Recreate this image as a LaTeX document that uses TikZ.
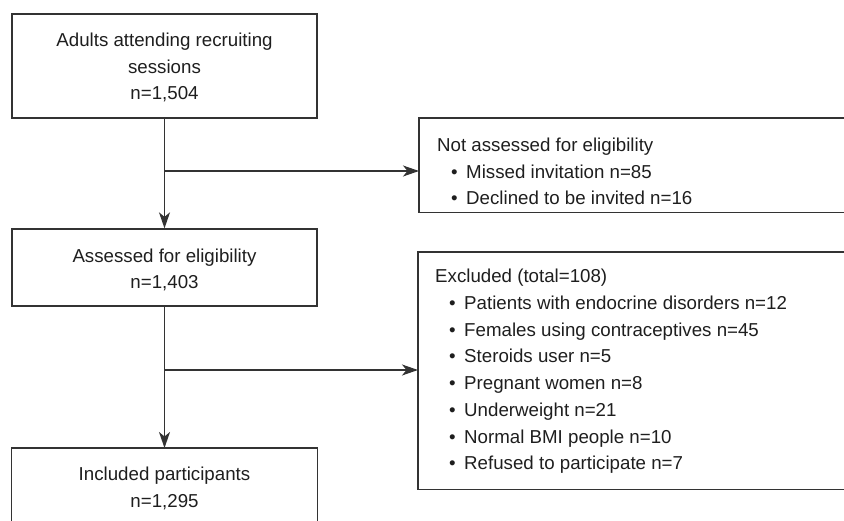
\documentclass[tikz,border=0pt]{standalone}
\usepackage{fontspec}
\setmainfont{Liberation Sans}
\usetikzlibrary{arrows.meta}
\definecolor{ln}{HTML}{333333}
\definecolor{tx}{HTML}{1E1E1E}
\newcommand{\bul}{\hspace*{14pt}\textbullet\hspace{8.5pt}}
\begin{document}
\begin{tikzpicture}[x=1pt,y=-1pt,
  lbl/.style={text=tx, font=\fontsize{18.7}{26.7}\selectfont, inner sep=0pt},
  ctext/.style={lbl, align=center},
  ltext/.style={lbl, align=left, anchor=west},
  frame/.style={draw=ln, line width=1.3pt, rectangle, inner sep=0pt, minimum width=305pt},
  ghost/.style={rectangle, inner sep=0pt},
  edge/.style={draw=ln, line width=1.3pt},
  arr/.style={edge, -{Stealth[length=16pt,width=11pt,inset=4.5pt]}}
]
\useasboundingbox (0,0) rectangle (844,521);

% left column
\node[frame, minimum height=104pt] (b1) at (164.5,66) {};
\node[ctext] (b1t) at (164.5,67.5) {Adults attending recruiting\\sessions\\n=1,504};

\node[frame, minimum height=77pt] (b2) at (164.5,267.5) {};
\node[ctext] (b2t) at (164.5,270) {Assessed for eligibility\\n=1,403};

\node[ghost, minimum width=305pt, minimum height=100pt, anchor=north] (b3) at (164.5,448) {};
\draw[edge] (b3.south west) -- (b3.north west) -- (b3.north east) -- (b3.south east);
\node[ctext] (b3t) at (164.5,488.5) {Included participants\\n=1,295};

% right column
\node[ghost, minimum width=460pt, minimum height=94pt, anchor=north west] (r1) at (419,118) {};
\draw[edge] (r1.north east) -- (r1.north west) -- (r1.south west) -- (r1.south east);
\node[ltext] (r1t) at (437,171.5) {Not assessed for eligibility\\
\bul Missed invitation n=85\\
\bul Declined to be invited n=16};

\node[ghost, minimum width=460pt, minimum height=237pt, anchor=north west] (r2) at (418,252) {};
\draw[edge] (r2.north east) -- (r2.north west) -- (r2.south west) -- (r2.south east);
\node[ltext] (r2t) at (435,371.5) {Excluded (total=108)\\
\bul Patients with endocrine disorders n=12\\
\bul Females using contraceptives n=45\\
\bul Steroids user n=5\\
\bul Pregnant women n=8\\
\bul Underweight n=21\\
\bul Normal BMI people n=10\\
\bul Refused to participate n=7};

% connectors
\coordinate (j1) at (164.5,171);
\coordinate (j2) at (164.5,370);
\draw[arr] (b1.south) -- (b2.north);
\draw[arr] (b2.south) -- (b3.north);
\draw[arr] (j1) -- (j1 -| r1.west);
\draw[arr] (j2) -- (j2 -| r2.west);
\end{tikzpicture}
\end{document}
